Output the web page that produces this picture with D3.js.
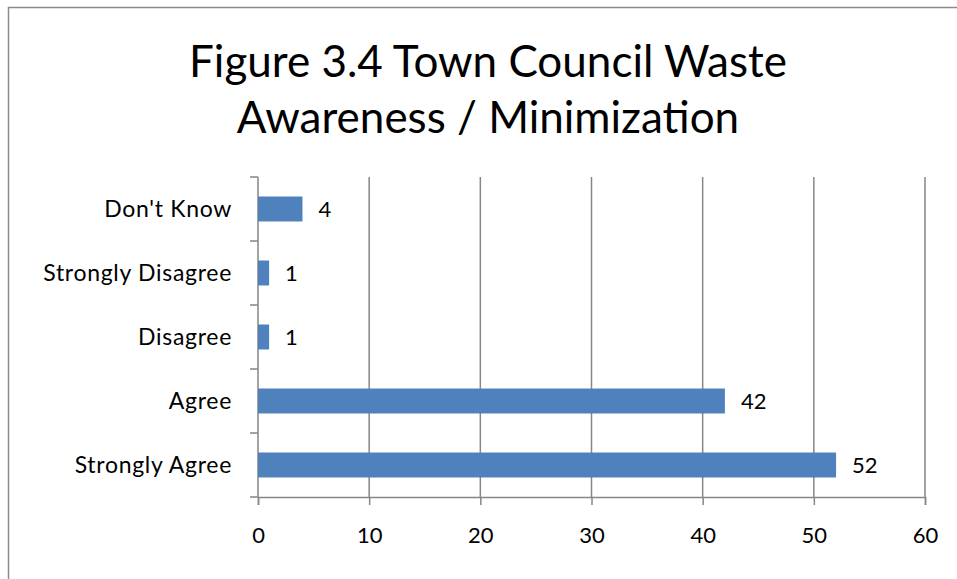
<!DOCTYPE html>
<html>
<head>
<meta charset="utf-8">
<script src="https://cdn.jsdelivr.net/npm/d3@7"></script>
<style>
body { margin: 0; background: #fff; }
text { font-family: Lato, "Open Sans", sans-serif; fill: #000; }
</style>
</head>
<body>
<script>
var w = 957;
var h = 579;

var categories = ["Strongly Agree", "Agree", "Disagree", "Strongly Disagree", "Don't Know"];
var values = [52, 42, 1, 1, 4];
var xTicks = [0, 10, 20, 30, 40, 50, 60];
var titleLines = ["Figure 3.4 Town Council Waste", "Awareness / Minimization"];

var plotLeft = 258, plotRight = 925, plotTop = 177, plotBottom = 497;

var svg = d3.select("body")
            .append("svg")
            .attr("width", w)
            .attr("height", h);

// outer chart border
svg.append("rect")
    .attr("x", 8.5).attr("y", 7.5)
    .attr("width", 1000).attr("height", 1000)
    .attr("fill", "none")
    .attr("stroke", "#8c8c8c")
    .attr("stroke-width", 1.5);

svg.selectAll("text.title")
    .data(titleLines)
    .enter()
    .append("text")
    .attr("class", "title")
    .attr("x", 488)
    .attr("y", function(d, i){ return 77 + i * 56; })
    .attr("text-anchor", "middle")
    .style("font-size", "44px")
    .text(function(d){ return d; });

var x = d3.scaleLinear().domain([0, 60]).range([plotLeft, plotRight]);
var y = d3.scaleBand()
    .domain(categories.slice().reverse())
    .range([plotTop, plotBottom])
    .paddingInner(0.61)
    .paddingOuter(0.305);

// gridlines
svg.selectAll("line.grid")
    .data(xTicks.slice(1))
    .enter()
    .append("line")
    .attr("class", "grid")
    .attr("x1", function(d){ return x(d); })
    .attr("x2", function(d){ return x(d); })
    .attr("y1", plotTop)
    .attr("y2", plotBottom)
    .attr("stroke", "#868686")
    .attr("stroke-width", 1.5);

var xAxis = svg.append("g")
    .attr("transform", "translate(0," + plotBottom + ")")
    .call(d3.axisBottom(x).tickValues(xTicks).tickSize(8).tickPadding(22));
xAxis.select(".domain").attr("stroke", "#868686").attr("stroke-width", 1.5);
xAxis.selectAll(".tick line").attr("stroke", "#868686").attr("stroke-width", 1.5);
xAxis.selectAll("text").style("font-size", "22px").style("font-family", "Lato, sans-serif");

// y axis line with ticks at band boundaries
var band = (plotBottom - plotTop) / categories.length;
svg.append("line")
    .attr("x1", plotLeft).attr("x2", plotLeft)
    .attr("y1", plotTop).attr("y2", plotBottom)
    .attr("stroke", "#868686").attr("stroke-width", 1.5);
svg.selectAll("line.ytick")
    .data(d3.range(categories.length + 1))
    .enter()
    .append("line")
    .attr("class", "ytick")
    .attr("x1", plotLeft - 8).attr("x2", plotLeft)
    .attr("y1", function(d){ return plotTop + d * band; })
    .attr("y2", function(d){ return plotTop + d * band; })
    .attr("stroke", "#868686").attr("stroke-width", 1.5);

svg.selectAll("text.cat")
    .data(categories)
    .enter()
    .append("text")
    .attr("class", "cat")
    .attr("x", 232)
    .attr("y", function(d){ return y(d) + y.bandwidth() / 2; })
    .attr("dy", "0.35em")
    .attr("text-anchor", "end")
    .style("font-size", "23px")
    .style("letter-spacing", "0.7px")
    .text(function(d){ return d; });

svg.selectAll("rect.bar")
    .data(values)
    .enter()
    .append("rect")
    .attr("class", "bar")
    .attr("x", x(0))
    .attr("y", function(d, i){ return y(categories[i]); })
    .attr("width", function(d){ return x(d) - x(0); })
    .attr("height", y.bandwidth())
    .attr("fill", "#4f81bd");

svg.selectAll("text.val")
    .data(values)
    .enter()
    .append("text")
    .attr("class", "val")
    .attr("x", function(d){ return x(d) + 16; })
    .attr("y", function(d, i){ return y(categories[i]) + y.bandwidth() / 2; })
    .attr("dy", "0.35em")
    .style("font-size", "22px")
    .text(function(d){ return d; });
</script>
</body>
</html>
